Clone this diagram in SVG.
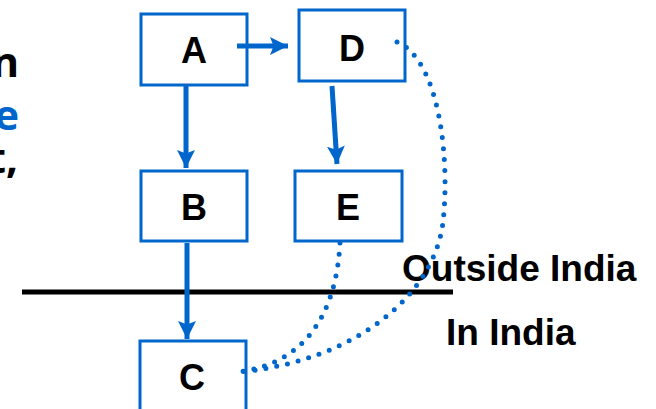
<svg xmlns="http://www.w3.org/2000/svg" width="656" height="409" viewBox="0 0 656 409">
  <style>
    .box { fill: #ffffff; stroke: #0066cc; stroke-width: 3; }
    .lbl { font-family: "Liberation Sans", Arial, sans-serif; font-weight: bold; font-size: 36px; fill: #000000; text-anchor: middle; }
    .side { font-family: "Open Sans", "Liberation Sans", sans-serif; font-weight: bold; font-size: 42px; text-anchor: end; }
    .region { font-family: "Liberation Sans", Arial, sans-serif; font-weight: bold; font-size: 37px; fill: #000000; }
    .arrow { stroke: #0066cc; stroke-width: 5; fill: none; }
    .dots { stroke: #0066cc; stroke-width: 5; fill: none; stroke-linecap: round; stroke-dasharray: 0 11; }
  </style>
  <defs>
    <marker id="head" viewBox="0 0 10 10" refX="10" refY="5" markerWidth="3.6" markerHeight="3.6" orient="auto" markerUnits="strokeWidth">
      <path d="M0,0 L10,5 L0,10 L2,5 z" fill="#0066cc"/>
    </marker>
  </defs>
  <rect width="656" height="409" fill="#ffffff"/>

  <!-- clipped side text -->
  <g id="side-text">
    <text class="side" x="19" y="77" fill="#000000">n</text>
    <text class="side" x="19" y="130" fill="#0066cc">e</text>
    <text class="side" x="18" y="173" fill="#000000">t,</text>
  </g>

  <!-- border line -->
  <line id="border" x1="22" y1="292" x2="453" y2="292" stroke="#000000" stroke-width="5"/>

  <g id="region-labels">
    <text class="region" x="402" y="281">Outside India</text>
    <text class="region" x="446" y="345">In India</text>
  </g>

  <g id="node-A">
    <rect class="box" x="141" y="14" width="106" height="71"/>
    <text class="lbl" x="194" y="63">A</text>
  </g>
  <g id="node-D">
    <rect class="box" x="299" y="10" width="106" height="71"/>
    <text class="lbl" x="352" y="61">D</text>
  </g>
  <g id="node-B">
    <rect class="box" x="141" y="171" width="106" height="70"/>
    <text class="lbl" x="194" y="220">B</text>
  </g>
  <g id="node-E">
    <rect class="box" x="295" y="171" width="107" height="70"/>
    <text class="lbl" x="348" y="220">E</text>
  </g>
  <g id="node-C">
    <rect class="box" x="140" y="341" width="106" height="80"/>
    <text class="lbl" x="192" y="390">C</text>
  </g>

  <g id="connectors">
    <line class="arrow" x1="237" y1="46" x2="288" y2="46" marker-end="url(#head)"/>
    <line class="arrow" x1="186" y1="86" x2="186" y2="168" marker-end="url(#head)"/>
    <line class="arrow" x1="332" y1="86" x2="337" y2="164" marker-end="url(#head)"/>
    <line class="arrow" x1="187" y1="243" x2="187" y2="339" marker-end="url(#head)"/>
    <path class="dots" d="M340,243 C336,318 302,364 238,372"/>
    <path class="dots" d="M397,42 C440,60 450,160 443,222 C435,292 360,360 240,372"/>
  </g>
</svg>
